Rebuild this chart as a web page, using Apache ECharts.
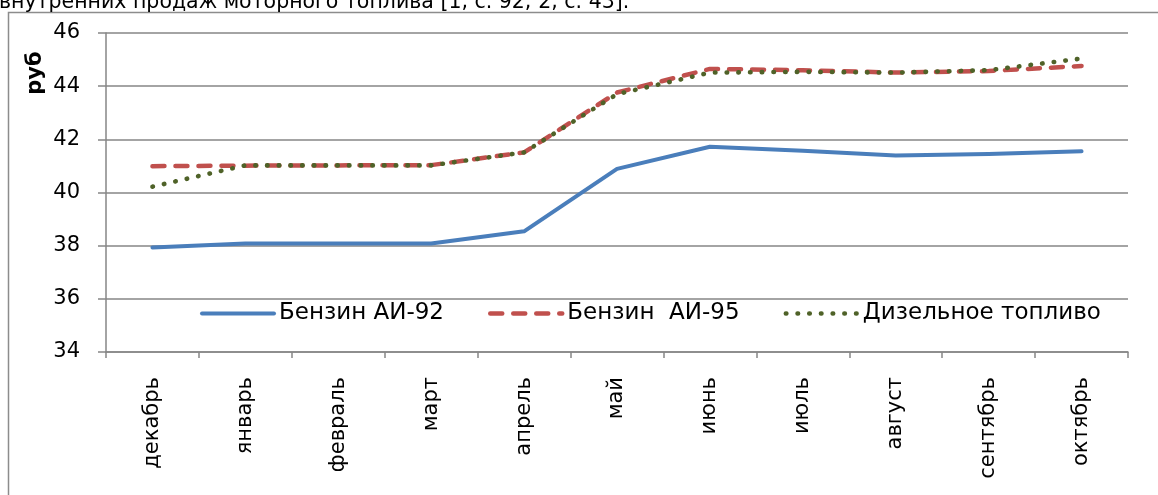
<!DOCTYPE html>
<html>
<head>
<meta charset="utf-8">
<script src="https://cdn.jsdelivr.net/npm/echarts@6/dist/echarts.min.js"></script>
<style>
html,body{margin:0;padding:0;background:#fff;}
#chart{width:1158px;height:495px;}
</style>
</head>
<body>
<div id="chart"></div>
<script>
var categories = ['декабрь','январь','февраль','март','апрель','май','июнь','июль','август','сентябрь','октябрь'];
var ai92 = [37.93, 38.08, 38.08, 38.08, 38.54, 40.89, 41.72, 41.57, 41.39, 41.45, 41.55];
var ai95 = [40.99, 41.01, 41.02, 41.03, 41.51, 43.76, 44.65, 44.6, 44.51, 44.57, 44.76];
var diesel = [40.22, 41.02, 41.02, 41.02, 41.51, 43.7, 44.51, 44.54, 44.51, 44.6, 45.04];
var seriesNames = ['Бензин АИ-92', 'Бензин  АИ-95', 'Дизельное топливо'];
var yTicks = {min: 34, max: 46, interval: 2};
var unitLabel = 'руб';
var captionText = 'внутренних продаж моторного топлива [1, с. 92; 2, с. 43].';

var FONT = '"DejaVu Sans", sans-serif';
var blueStyle = {color: '#4A7EBB', width: 4, type: 'solid', cap: 'round', join: 'round'};
var redStyle = {color: '#C0504D', width: 4.5, type: [12, 11], cap: 'round', join: 'round'};
var greenStyle = {color: '#4F6228', width: 4.6, type: [0.5, 11.2], cap: 'round', join: 'round'};

var chart = echarts.init(document.getElementById('chart'), null, {renderer: 'canvas'});
chart.setOption({
  animation: false,
  backgroundColor: '#fff',
  textStyle: {fontFamily: FONT},
  grid: {left: 106, right: 30, top: 33, bottom: 143},
  graphic: [
    {type: 'rect', shape: {x: 8.5, y: 12.5, width: 1200, height: 600}, style: {fill: 'none', stroke: '#8c8c8c', lineWidth: 1.5}, z: -1},
    {type: 'text', x: -1, y: -8, style: {text: captionText, font: '20.5px ' + FONT, fill: '#000'}},
    {type: 'text', x: 36, y: 73, rotation: Math.PI / 2, style: {text: unitLabel, font: 'bold 21px ' + FONT, fill: '#000', align: 'center', verticalAlign: 'middle'}}
  ],
  legend: {
    left: 195, top: 297,
    itemWidth: 72, itemHeight: 14, itemGap: 44,
    itemStyle: {color: 'rgba(0,0,0,0)', borderWidth: 0, opacity: 0},
    textStyle: {fontSize: 23, color: '#000', fontFamily: FONT},
    data: [
      {name: seriesNames[0], lineStyle: blueStyle},
      {name: seriesNames[1], lineStyle: redStyle},
      {name: seriesNames[2], lineStyle: greenStyle}
    ]
  },
  xAxis: {
    type: 'category',
    data: categories,
    boundaryGap: true,
    axisLine: {lineStyle: {color: '#868686', width: 1.5}},
    axisTick: {show: true, length: 6, lineStyle: {color: '#868686', width: 1.5}},
    axisLabel: {rotate: 90, margin: 25, fontSize: 21, color: '#000', fontFamily: FONT}
  },
  yAxis: {
    type: 'value',
    min: yTicks.min, max: yTicks.max, interval: yTicks.interval,
    axisLine: {show: true, lineStyle: {color: '#868686', width: 1.5}},
    axisTick: {show: true, length: 8, lineStyle: {color: '#868686', width: 1.5}},
    splitLine: {lineStyle: {color: '#868686', width: 1.5}},
    axisLabel: {fontSize: 21, color: '#000', margin: 26, fontFamily: FONT}
  },
  series: [
    {name: seriesNames[0], type: 'line', data: ai92, symbol: 'none', color: '#4A7EBB', lineStyle: blueStyle},
    {name: seriesNames[1], type: 'line', data: ai95, symbol: 'none', color: '#C0504D', lineStyle: redStyle},
    {name: seriesNames[2], type: 'line', data: diesel, symbol: 'none', color: '#4F6228', lineStyle: greenStyle}
  ]
});
</script>
</body>
</html>
